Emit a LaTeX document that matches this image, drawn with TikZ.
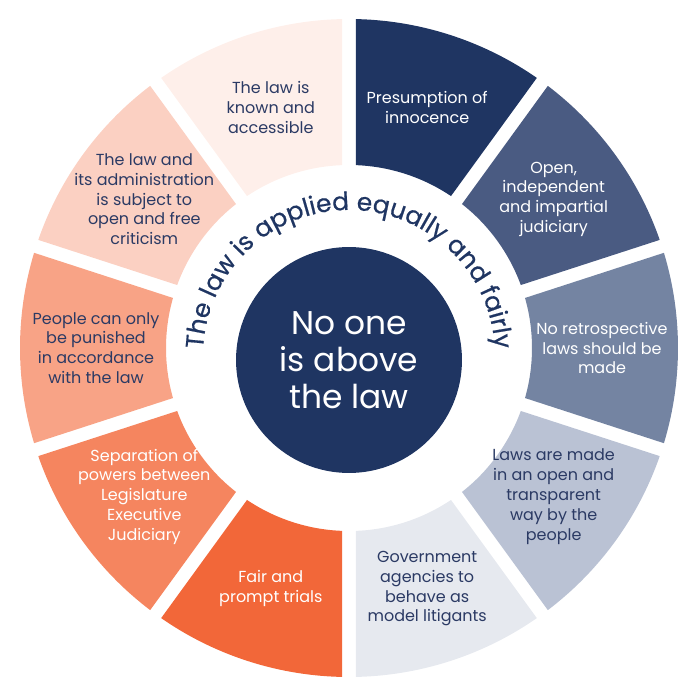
\documentclass[tikz,border=0pt]{standalone}
\usepackage{fontspec}
\setmainfont{Poppins}
\newfontfamily\arcfont[FakeBold=0.6]{Poppins}
\usepackage{tikz}
\usetikzlibrary{decorations.text}
\definecolor{navy}{HTML}{1F3562}
\definecolor{inknavy}{HTML}{2B3A64}
\definecolor{segA}{HTML}{1F3562}
\definecolor{segB}{HTML}{4A5B82}
\definecolor{segC}{HTML}{7484A2}
\definecolor{segD}{HTML}{BAC2D4}
\definecolor{segE}{HTML}{E6E9EF}
\definecolor{segF}{HTML}{F26739}
\definecolor{segG}{HTML}{F5855F}
\definecolor{segH}{HTML}{F8A386}
\definecolor{segI}{HTML}{FBD0C2}
\definecolor{segJ}{HTML}{FEEFEA}

\begin{document}
\begin{tikzpicture}[x=0.02cm,y=0.02cm]
\tikzset{seglabel/.style={align=center, inner sep=0pt, font=\fontsize{9.1}{11.3}\selectfont}}
\useasboundingbox (-349,-352) rectangle (351,348);
\def\Rout{329} \def\Rin{183} \def\gap{6.8}

  % ring of ten segments
  \foreach \a/\col/\tcol/\name/\lab in {
      72/segA/white/presumption/{Presumption of\\innocence},
      36/segB/white/judiciary/{Open,\\independent\\and impartial\\judiciary},
      0/segC/white/retro/{No retrospective\\laws should be\\made},
      -36/segD/inknavy/openlaws/{Laws are made\\in an open and\\transparent\\way by the\\people},
      -72/segE/inknavy/litigants/{Government\\agencies to\\behave as\\model litigants},
      -108/segF/white/trials/{Fair and\\prompt trials},
      -144/segG/white/powers/{Separation of\\powers between\\Legislature\\Executive\\Judiciary},
      180/segH/inknavy/punished/{People can only\\be punished\\in accordance\\with the law},
      144/segI/inknavy/criticism/{The law and\\its administration\\is subject to\\open and free\\criticism},
      108/segJ/inknavy/known/{The law is\\known and\\accessible}}{
    \pgfmathsetmacro\oa{\a+18-asin(\gap/\Rout)}
    \pgfmathsetmacro\ob{\a-18+asin(\gap/\Rout)}
    \pgfmathsetmacro\ia{\a+18-asin(\gap/\Rin)}
    \pgfmathsetmacro\ib{\a-18+asin(\gap/\Rin)}
    \fill[\col] (\oa:\Rout) arc[start angle=\oa, end angle=\ob, radius=\Rout]
      -- (\ib:\Rin) arc[start angle=\ib, end angle=\ia, radius=\Rin] -- cycle;
    \node[seglabel, text=\tcol] (\name) at (\a:253) {\lab};
  }

  % centre
  \node[circle, fill=navy, minimum size=4.52cm, inner sep=0pt, align=center,
    text=white, font=\fontsize{18.7}{21}\selectfont] (centre) at (0,-12) {No one\\is above\\the law};

  % curved heading
  \path[decorate, decoration={text along path, text align=center, text color=navy,
      text={|\arcfont\fontsize{14.2}{16}\selectfont|The law is applied equally and fairly}}]
    (0,-8) ++(190:146) arc[start angle=190, end angle=-10, radius=146];
\end{tikzpicture}
\end{document}
